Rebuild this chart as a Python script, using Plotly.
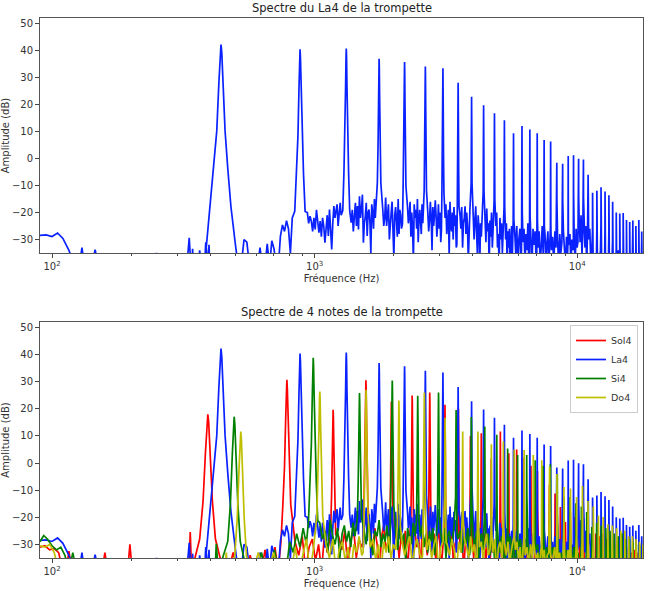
import numpy as np
import plotly.graph_objects as go

# ---------------- data ----------------
notes = ["Sol4", "La4", "Si4", "Do4"]
fundamentals = [392.0, 440.0, 493.9, 523.3]

# harmonic peak amplitudes (dB), harmonic 1, 2, 3 ...
la4_amps = [42.2, 40.4, 40.7, 36.9, 35.7, 34, 33.4, 28, 22.8, 19.7, 16.7, 14.1, 9.3, 12, 10.7,
            9.3, 6.8, 6.3, -1.6, -2, 0.9, 1.2, -0.1, -0.4, -6, -12.7, -12, -10.7, -12.2, -13.6,
            -16, -20, -20.4, -20.2, -22.8, -23.5, -23, -25, -22.8, -27]
sol4_amps = [18, 30.7, 19.6, 30.5, 22.7, 24.9, 26, 21.5, 20, 10, 11, 1.7, 11.6, 3.6, 5, 2, -1,
             -3, -5, -8, -11.2, -16.2, -21.7, -18, -20, -22, -20.5, -24, -25, -26, -27, -26,
             -28, -29, -28, -30, -31, -30, -32, -31, -33, -32, -33, -34, -34]
si4_amps = [17.1, 38.8, 25.8, 30.4, 24.8, 26, 19.6, 17, 13.5, 10.4, 5.4, 3, 3, 1, -1, -0.4, -4,
            -12.5, -12.5, -14.8, -16, -18, -23.6, -22, -23, -24, -25, -26, -27, -26, -28, -28,
            -29, -30, -30, -31]
do4_amps = [11.6, 26.4, 27, 23.1, 26, 16.7, 11.6, 11.6, 6.9, 8, 5, 4.8, 3, 1, -1.4, -4, -8.8,
            -9.4, -12.5, -8.5, -14, -16, -19.3, -19.9, -22.6, -23, -24, -25, -25, -27, -27, -28,
            -29, -30]

# low-frequency floor before the fundamental: frequencies (Hz) and levels (dB)
la4_pre_f = [90, 95, 100, 105, 110, 116, 122, 127, 130, 133, 141, 146, 150, 248, 250, 252, 326,
             333, 338, 341, 343, 346, 360, 365, 370, 381, 385, 389, 393, 396, 399]
la4_pre_db = [-28.5, -28.3, -28.9, -27.6, -29.6, -34, -40, -40, -33, -40, -40, -33.8, -40, -40,
              -34.9, -40, -40, -29.4, -40, -40, -33.4, -40, -40, -34, -40, -40, -31, -40, -40,
              -32, -40]
sol4_pre_f = [90, 94, 98, 102, 106, 110, 113, 116, 119, 155, 159, 163, 194, 198, 202, 320, 332,
              336, 340]
sol4_pre_db = [-31, -30.5, -32, -31.5, -33, -40, -40, -32.5, -40, -40, -33, -40, -40, -30, -40,
               -40, -40, -25.4, -40]
si4_pre_f = [90, 93, 96, 100, 104, 108, 112, 116, 120, 124, 400, 418, 422, 426, 430]
si4_pre_db = [-29, -26.7, -28, -30.5, -32, -31, -34, -40, -33, -40, -40, -40, -29.8, -40, -40]
do4_pre_f = [90, 94, 98, 102, 106, 110, 455, 461, 466]
do4_pre_db = [-30.5, -31, -30, -33, -40, -40, -40, -33, -40]

# noise floor levels (dB) between harmonic k and k+1
la4_gaps = [
    [-31, -40, -40, -30, -31, -40, -40, -40, -40, -33, -40, -40, -31.6, -40, -30.5, -33.5, -40, -40, -28.7, -24.6, -27, -23, -26, -35, -22],
    [-20, -24, -21.4, -23.2, -27, -22, -26.3, -19, -25, -27.5, -23.2, -29, -22, -25, -31.2, -26.3, -21, -28.7, -18.9, -26.3, -33.7, -24, -17.6, -22, -18.9, -17, -25, -19.5, -16.4, -21],
    [-23.8, -19, -27, -21.4, -16.4, -25, -17.6, -26.3, -14, -22, -18.9, -13.4, -31.2, -24, -21.4, -16.4, -28.7, -20, -18.9, -23.8, -35, -17, -20, -26, -15, -22],
    [-19, -25, -22, -14.5, -25, -19, -17, -30, -23, -20, -16, -27, -37, -21, -18, -23, -29, -15, -28, -19, -21, -26],
    [-18, -24, -21, -16, -29, -20, -26, -38, -17, -22, -19, -26, -15, -31, -23, -19, -23, -28, -17, -24],
    [-20, -27, -23, -16, -22, -34, -18, -25, -21, -15.5, -21, -29, -24, -17, -26, -20, -31],
    [-22, -17, -28, -24, -19, -36, -16, -24, -27, -20, -30, -18, -25, -21, -33],
    [-21, -26, -18, -33, -24, -22, -17.7, -28, -20, -25, -38, -23, -19],
    [-19, -30, -23, -17.7, -27, -35, -21, -26, -40, -24, -29, -22],
    [-22, -31, -18.5, -27, -24, -40, -23, -29, -20, -33, -26],
    [-25, -20, -33, -28, -40, -22, -30, -24, -35, -27],
    [-30, -24, -40, -27, -33, -26, -40, -29, -25, -36],
    [-27, -35, -25, -40, -30, -26, -38],
    [-31, -26, -40, -28, -34, -24, -40],
    [-29, -40, -26, -32, -27, -40],
    [-33, -27, -40, -30, -25, -36],
    [-28, -40, -31, -27, -40, -32],
    [-34, -29, -40, -27, -33],
    [-30, -40, -28, -35, -31],
    [-27, -33, -40, -29, -36],
    [-32, -28, -40, -30, -34],
    [-29, -40, -26, -33, -31],
    [-24, -31, -21, -36, -27],
    [-22, -33, -25, -40, -28],
    [-30, -26, -40, -32],
    [-40, -36, -40],
    [-40, -40, -34],
    [-37, -40, -40],
    [-40, -35, -40],
    [-40, -40, -36],
    [-38, -40, -40],
    [-40, -34, -40],
    [-40, -40, -37],
    [-36, -40, -40],
    [-40, -38, -40],
    [-40, -40, -35],
    [-39, -40, -40],
    [-40, -36, -40],
    [-40, -40, -38],
]
la4_tail = [-40, -36, -40]

sol4_gaps = [
    [-40, -40, -33, -40, -40, -40, -34, -40, -40, -40, -32, -40, -40, -31, -40],
    [-29, -34, -27, -40, -31, -28, -36, -30, -40, -26, -33],
    [-27, -32, -25, -38, -29, -24, -35, -28, -31],
    [-26, -33, -24, -30, -40, -27, -23, -32, -29],
    [-28, -24, -35, -27, -31, -25, -40, -29],
    [-25, -31, -27, -40, -24, -30, -28, -34],
    [-30, -26, -36, -28, -25, -40, -31],
    [-27, -33, -29, -24, -38, -30, -28],
    [-31, -27, -40, -29, -26, -34],
    [-28, -35, -30, -27, -40, -32],
    [-30, -26, -37, -31, -29, -40],
    [-33, -29, -40, -30, -35],
    [-31, -40, -28, -34, -32],
    [-35, -30, -40, -33, -29],
    [-32, -38, -30, -40, -34],
    [-40, -33, -31, -37, -35],
    [-34, -40, -32, -36],
    [-31, -37, -40, -33],
    [-36, -32, -40, -35],
    [-40, -34, -38, -33],
    [-35, -40, -33, -37],
    [-38, -34, -40, -36],
    [-40, -35, -38], [-36, -40, -37], [-40, -34, -40], [-37, -40, -35], [-40, -38, -40],
    [-35, -40, -39], [-40, -36, -40], [-38, -40, -37], [-40, -40, -36], [-39, -40, -40],
    [-40, -37, -40], [-40, -40, -38], [-36, -40, -40], [-40, -39, -40], [-40, -40, -37],
    [-38, -40, -40], [-40, -36, -40], [-40, -40, -39], [-37, -40, -40], [-40, -38, -40],
    [-40, -40, -36], [-39, -40, -40],
]
sol4_tail = [-40, -38]

si4_gaps = [
    [-40, -40, -40, -33, -40, -40, -32, -40, -40, -40, -29, -33, -26, -31, -24, -30],
    [-22, -28, -25, -33, -21, -27, -30, -24, -35, -26, -23, -29, -25, -31, -22, -27],
    [-24, -30, -22, -28, -34, -25, -27, -21, -31, -26, -29, -23, -33],
    [-25, -32, -23, -29, -26, -36, -24, -28, -30, -22, -27],
    [-27, -23, -31, -26, -33, -25, -29, -24, -34, -28],
    [-26, -30, -24, -35, -27, -25, -31, -28, -23],
    [-28, -25, -33, -27, -30, -24, -34],
    [-27, -31, -25, -36, -28, -26, -32],
    [-29, -26, -34, -28, -31, -40],
    [-28, -33, -27, -30, -38, -29],
    [-30, -27, -35, -29, -40, -31],
    [-31, -28, -36, -30, -33],
    [-29, -34, -40, -31, -32],
    [-32, -30, -37, -33, -40],
    [-30, -35, -31, -40, -33],
    [-34, -31, -38, -32],
    [-31, -36, -33, -40],
    [-35, -32, -40, -34],
    [-33, -38, -31, -36],
    [-36, -33, -40, -35],
    [-34, -40, -37], [-38, -35, -40], [-40, -36, -39], [-37, -40, -35], [-40, -38, -40],
    [-36, -40, -39], [-40, -37, -40], [-39, -40, -36], [-40, -40, -38], [-37, -40, -40],
    [-40, -39, -40], [-40, -36, -40], [-38, -40, -40], [-40, -40, -37], [-40, -38, -40],
]
si4_tail = [-40]

do4_gaps = [
    [-40, -33, -40, -40, -33, -40, -40, -35, -40, -31, -40, -34, -28, -40, -32],
    [-30, -35, -28, -40, -32, -29, -36, -31, -40, -30, -33, -27, -34],
    [-31, -28, -36, -30, -40, -29, -33, -27, -35, -30, -32],
    [-29, -34, -30, -27, -38, -31, -28, -33, -36],
    [-32, -28, -35, -30, -27, -40, -31, -29],
    [-30, -34, -28, -32, -40, -29, -33],
    [-28, -31, -35, -27, -33, -30, -38],
    [-31, -29, -36, -30, -26, -34, -32],
    [-33, -28, -40, -31, -29, -35],
    [-30, -34, -29, -37, -32, -28],
    [-32, -29, -36, -31, -40, -33],
    [-34, -31, -38, -30, -35],
    [-31, -36, -33, -40, -32],
    [-35, -32, -40, -34, -33],
    [-33, -38, -34, -31, -40],
    [-36, -33, -40, -35],
    [-34, -40, -32, -37],
    [-38, -35, -40, -33],
    [-35, -40, -37, -34],
    [-40, -36, -38], [-37, -40, -35], [-40, -38, -40], [-36, -40, -39], [-40, -37, -40],
    [-39, -40, -36], [-40, -40, -38], [-37, -40, -40], [-40, -39, -40], [-40, -36, -40],
    [-38, -40, -40], [-40, -40, -37], [-40, -38, -40], [-39, -40, -40],
]
do4_tail = [-40]

colors = {"Sol4": "#ff0000", "La4": "#0a22ff", "Si4": "#008000", "Do4": "#bfbf00"}

# ---------------- building the spectra ----------------
PK_OFF = [-54, -40, -27, -16, -8, -3, 0, 3, 8, 16, 27, 40, 54]
PK_REL = [-76, -60, -46, -32, -14, -3, 0, -3, -14, -32, -46, -60, -76]
PK_HALF = 58
F_MAX = 17800.0


def build(f0, amps, pre_f, pre_db, gaps, tail):
    xs, ys = list(pre_f), list(pre_db)
    n = len(amps)
    for k, a in enumerate(amps):
        fk = f0 * (k + 1)
        if k < n - 1:
            nxt = gaps[k] if k < len(gaps) else [-40]
            start, end = fk + PK_HALF, f0 * (k + 2) - PK_HALF
        else:
            nxt = tail
            start, end = fk + PK_HALF, F_MAX
        left = ys[-1] if ys else -40
        right = nxt[0] if nxt else -40
        for o, r in zip(PK_OFF, PK_REL):
            v = a + r
            if o < 0 and v <= left:
                continue
            if o > 0 and v <= right:
                continue
            xs.append(fk + o)
            ys.append(v)
        m = len(nxt)
        pos = np.linspace(start, end, m) if m > 1 else [0.5 * (start + end)]
        xs.extend(pos)
        ys.extend(nxt)
    return xs, ys


spec = {
    "Sol4": build(392.0, sol4_amps, sol4_pre_f, sol4_pre_db, sol4_gaps, sol4_tail),
    "La4": build(440.0, la4_amps, la4_pre_f, la4_pre_db, la4_gaps, la4_tail),
    "Si4": build(493.9, si4_amps, si4_pre_f, si4_pre_db, si4_gaps, si4_tail),
    "Do4": build(523.3, do4_amps, do4_pre_f, do4_pre_db, do4_gaps, do4_tail),
}

# ---------------- figure ----------------
W, H = 651, 591
FONT = "DejaVu Sans"
LW = 1.7
fig = go.Figure()

x_la, y_la = spec["La4"]
fig.add_trace(go.Scatter(x=x_la, y=y_la, mode="lines", line=dict(color=colors["La4"], width=LW),
                         showlegend=False, xaxis="x", yaxis="y", hoverinfo="skip"))
for nm in notes:
    xs, ys = spec[nm]
    fig.add_trace(go.Scatter(x=xs, y=ys, mode="lines", name=nm,
                             line=dict(color=colors[nm], width=LW),
                             xaxis="x2", yaxis="y2", hoverinfo="skip"))

px_l, px_r = 40, 643
dom_x = [px_l / W, px_r / W]
top_dom = [1 - 253 / H, 1 - 18 / H]
bot_dom = [1 - 558 / H, 1 - 322 / H]

minor_vals = [200, 300, 400, 500, 600, 700, 800, 900,
              2000, 3000, 4000, 5000, 6000, 7000, 8000, 9000]


def xaxis_cfg(anchor):
    return dict(type="log", range=[np.log10(90), np.log10(F_MAX)], domain=dom_x, anchor=anchor,
                tickvals=[100, 1000, 10000],
                ticktext=["10<sup>2</sup>", "10<sup>3</sup>", "10<sup>4</sup>"],
                ticks="outside", ticklen=4, tickwidth=1, tickcolor="#444",
                minor=dict(tickvals=minor_vals, ticks="outside", ticklen=2, tickwidth=1,
                           tickcolor="#444", showgrid=False),
                showline=True, linecolor="#555", linewidth=1, mirror=True,
                showgrid=False, zeroline=False,
                tickfont=dict(family=FONT, size=10, color="#333"),
                title=dict(text="Fréquence (Hz)", font=dict(family=FONT, size=10, color="#333"),
                           standoff=3))


def yaxis_cfg(anchor, dom):
    return dict(range=[-35, 52], domain=dom, anchor=anchor,
                tickvals=[-30, -20, -10, 0, 10, 20, 30, 40, 50],
                ticks="outside", ticklen=4, tickwidth=1, tickcolor="#444",
                showline=True, linecolor="#555", linewidth=1, mirror=True,
                showgrid=False, zeroline=False,
                tickfont=dict(family=FONT, size=10, color="#333"),
                title=dict(text="Amplitude (dB)", font=dict(family=FONT, size=10, color="#333"),
                           standoff=2))


fig.update_layout(
    width=W, height=H,
    margin=dict(l=0, r=0, t=0, b=0),
    paper_bgcolor="white", plot_bgcolor="white",
    font=dict(family=FONT, size=10, color="#333"),
    xaxis=xaxis_cfg("y"), yaxis=yaxis_cfg("x", top_dom),
    xaxis2=xaxis_cfg("y2"), yaxis2=yaxis_cfg("x2", bot_dom),
    legend=dict(x=638 / W, xanchor="right", y=1 - 325 / H, yanchor="top",
                bgcolor="rgba(255,255,255,0.9)", bordercolor="#cccccc", borderwidth=1,
                font=dict(family=FONT, size=9.5, color="#333"), itemwidth=30,
                tracegroupgap=0),
    annotations=[
        dict(text="Spectre du La4 de la trompette", x=(px_l + px_r) / 2 / W, y=1 - 8 / H,
             xref="paper", yref="paper", showarrow=False, xanchor="center", yanchor="middle",
             font=dict(family=FONT, size=11.5, color="#222")),
        dict(text="Spectre de 4 notes de la trompette", x=(px_l + px_r) / 2 / W, y=1 - 312 / H,
             xref="paper", yref="paper", showarrow=False, xanchor="center", yanchor="middle",
             font=dict(family=FONT, size=11.5, color="#222")),
    ],
)

fig.write_html("out.html")
